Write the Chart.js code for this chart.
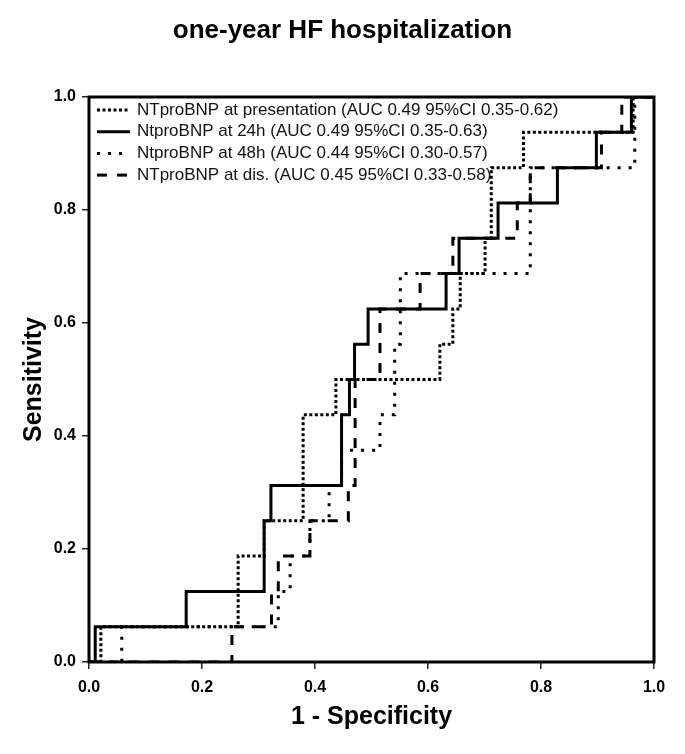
<!DOCTYPE html>
<html>
<head>
<meta charset="utf-8">
<title>one-year HF hospitalization</title>
<script src="https://cdn.jsdelivr.net/npm/chart.js@4.4.1/dist/chart.umd.min.js"></script>
<style>
  html, body { margin: 0; padding: 0; background: #fff; }
  #wrap { width: 685px; height: 754px; }
</style>
</head>
<body>
<div id="wrap"><canvas id="roc" width="685" height="754"></canvas></div>
<script>
// ROC step points: at each x (1 - specificity) the curve climbs to y (sensitivity)
const presentationX = [0, 0.021, 0.264, 0.310, 0.379, 0.437, 0.621, 0.644, 0.657, 0.701, 0.712, 0.769, 0.963, 1];
const presentationY = [0, 0.0625, 0.1875, 0.25, 0.4375, 0.5, 0.5625, 0.625, 0.6875, 0.75, 0.875, 0.9375, 1, 1];

const h24X = [0, 0.011, 0.172, 0.310, 0.322, 0.447, 0.461, 0.470, 0.494, 0.632, 0.655, 0.724, 0.829, 0.898, 0.960, 1];
const h24Y = [0, 0.0625, 0.125, 0.25, 0.3125, 0.4375, 0.5, 0.5625, 0.625, 0.6875, 0.75, 0.8125, 0.875, 0.9375, 1, 1];

const h48X = [0, 0.058, 0.335, 0.356, 0.391, 0.425, 0.447, 0.515, 0.541, 0.551, 0.781, 0.966, 1];
const h48Y = [0, 0.0625, 0.125, 0.1875, 0.25, 0.3125, 0.375, 0.4375, 0.5625, 0.6875, 0.875, 1, 1];

const dischargeX = [0, 0.253, 0.323, 0.335, 0.391, 0.459, 0.471, 0.515, 0.586, 0.644, 0.758, 0.781, 0.907, 0.943, 1];
const dischargeY = [0, 0.0625, 0.125, 0.1875, 0.25, 0.3125, 0.5, 0.625, 0.6875, 0.75, 0.8125, 0.875, 0.9375, 1, 1];

const seriesLabels = [
    'NTproBNP at presentation (AUC 0.49 95%CI 0.35-0.62)',
    'NtproBNP at 24h (AUC 0.49 95%CI 0.35-0.63)',
    'NtproBNP at 48h (AUC 0.44 95%CI 0.30-0.57)',
    'NTproBNP at dis. (AUC 0.45 95%CI 0.33-0.58)'
];
const tickValues = [0, 0.2, 0.4, 0.6, 0.8, 1.0];

const FONT = '"Liberation Sans", Arial, sans-serif';

function toPoints(xs, ys) {
    return xs.map((x, i) => ({ x: x, y: ys[i] }));
}

function curve(label, xs, ys, dash) {
    return {
        label: label,
        data: toPoints(xs, ys),
        showLine: true,
        stepped: 'before',   // go right first, then climb
        borderColor: '#000',
        borderWidth: 3,
        borderDash: dash,
        pointRadius: 0,
        fill: false,
        xAxisID: 'x',
        yAxisID: 'y'
    };
}

// frame round the plot and the legend inside its top-left corner
const frameAndLegend = {
    id: 'frameAndLegend',
    afterDatasetsDraw(chart) {
        const { ctx, chartArea: a } = chart;
        ctx.save();
        ctx.strokeStyle = '#000';
        ctx.lineWidth = 3;
        ctx.setLineDash([]);
        ctx.strokeRect(a.left, a.top, a.right - a.left, a.bottom - a.top);

        ctx.font = '17px ' + FONT;
        ctx.textBaseline = 'middle';
        ctx.fillStyle = '#111';
        chart.data.datasets.forEach((ds, i) => {
            const y = a.top + 13 + i * 21.7;
            ctx.beginPath();
            ctx.lineWidth = ds.borderWidth;
            ctx.setLineDash(ds.borderDash || []);
            ctx.moveTo(a.left + 8, y);
            ctx.lineTo(a.left + 41, y);
            ctx.stroke();
            ctx.fillText(ds.label, a.left + 48, y);
        });
        ctx.restore();
    }
};

function axis(titleText, fitSize, isX) {
    return {
        type: 'linear',
        min: 0,
        max: 1,
        afterBuildTicks: scale => {
            scale.ticks = tickValues.map(v => ({ value: v }));
        },
        afterFit: scale => {
            if (isX) scale.height = fitSize; else scale.width = fitSize;
        },
        ticks: {
            color: '#000',
            padding: isX ? 9 : 6,
            font: { family: FONT, size: 16, weight: 'bold' },
            callback: v => Number(v).toFixed(1)
        },
        grid: {
            drawOnChartArea: false,
            drawTicks: true,
            tickLength: 7,
            color: '#222',
            lineWidth: 1.5
        },
        border: { display: false },
        title: {
            display: true,
            text: titleText,
            color: '#000',
            font: { family: FONT, size: 25, weight: 'bold' },
            padding: isX ? { top: 0, bottom: 22 } : { top: 3.5, bottom: 0 }
        }
    };
}

const chart = new Chart(document.getElementById('roc'), {
    type: 'scatter',
    data: {
        datasets: [
            curve(seriesLabels[0], presentationX, presentationY, [3, 2.5]),
            curve(seriesLabels[1], h24X, h24Y, []),
            curve(seriesLabels[2], h48X, h48Y, [3, 8]),
            curve(seriesLabels[3], dischargeX, dischargeY, [10, 10])
        ]
    },
    options: {
        responsive: false,
        animation: false,
        // equal side padding keeps the title centred on the page
        layout: { padding: { left: 15.5, right: 15.5, top: 0, bottom: 0 } },
        plugins: {
            legend: { display: false },
            tooltip: { enabled: false },
            title: {
                display: true,
                text: 'one-year HF hospitalization',
                color: '#000',
                font: { family: FONT, size: 26, weight: 'bold' },
                padding: { top: 15, bottom: 50.8 }
            }
        },
        scales: {
            x: axis('1 - Specificity', 92, true),
            y: axis('Sensitivity', 73.5, false),
            // empty right strip so the plot ends where the reference does
            yRight: {
                type: 'linear',
                position: 'right',
                min: 0,
                max: 1,
                ticks: { display: false },
                grid: { display: false },
                border: { display: false },
                afterFit: scale => { scale.width = 15.5; }
            }
        }
    },
    plugins: [frameAndLegend]
});
</script>
</body>
</html>
